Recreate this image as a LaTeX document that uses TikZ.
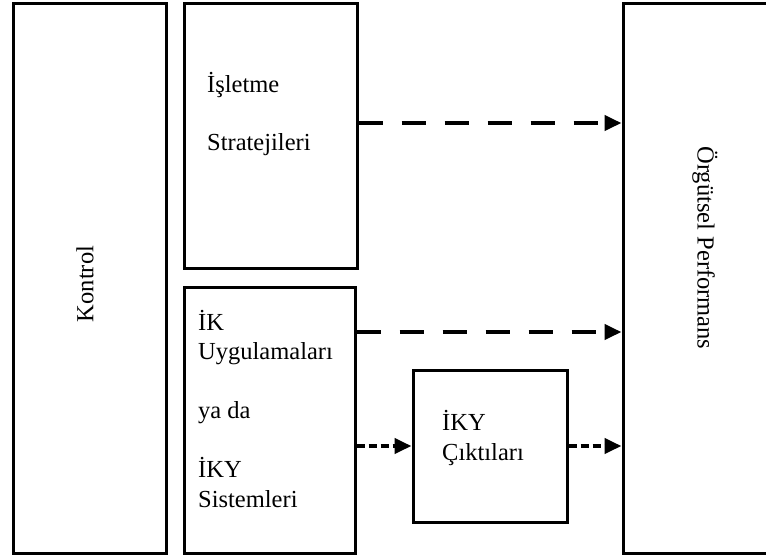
\documentclass[tikz,border=0pt]{standalone}
\usepackage{fontspec}
\setmainfont{Liberation Serif}
\usetikzlibrary{arrows.meta}
\begin{document}
\begin{tikzpicture}[x=1pt,y=-1pt,
  box/.style={draw,line width=3pt,rectangle,inner sep=0pt},
  lbl/.style={anchor=base west,inner sep=0pt,font=\fontsize{24.5}{29}\selectfont},
  vlbl/.style={inner sep=0pt,font=\fontsize{24.5}{29}\selectfont},
  dasharrow/.style={line width=4pt,dash pattern=on 24pt off 19pt,-{Triangle[length=17pt,width=15pt]}},
  dotarrow/.style={line width=4pt,dash pattern=on 8pt off 4pt,-{Triangle[length=17pt,width=15pt]}}]
\useasboundingbox (0,0) rectangle (766,558);
\clip (0,0) rectangle (766,558);
% boxes
\node[box,minimum width=153pt,minimum height=550pt] (kontrol) at (89.5,278) {};
\node[box,minimum width=173pt,minimum height=265pt] (strat) at (270.5,135.5) {};
\node[box,minimum width=171pt,minimum height=266pt] (ik) at (269.5,420) {};
\node[box,minimum width=154pt,minimum height=152pt] (cikti) at (490,446) {};
\node[box,minimum width=167pt,minimum height=550pt] (perf) at (706.5,278) {};
% labels
\node[vlbl,rotate=90] (tkontrol) at (85,284) {Kontrol};
\node[vlbl,rotate=-90] (tperf) at (705,248) {Örgütsel Performans};
\node[lbl] (t1) at (207,92) {İşletme};
\node[lbl] (t2) at (207,150) {Stratejileri};
\node[lbl] (t3) at (198,330) {İK};
\node[lbl] (t4) at (198,359) {Uygulamaları};
\node[lbl] (t5) at (198,418) {ya da};
\node[lbl] (t6) at (198,477) {İKY};
\node[lbl] (t7) at (198,507) {Sistemleri};
\node[lbl] (t8) at (442,430) {İKY};
\node[lbl] (t9) at (442,460) {Çıktıları};
% connectors
\draw[dasharrow] ([yshift=12.5pt]strat.east) -- ([yshift=12.5pt]strat.east -| perf.west);
\draw[dasharrow] ([yshift=88pt]ik.east) -- ([yshift=88pt]ik.east -| perf.west);
\draw[dotarrow] (ik.east |- cikti.west) -- (cikti.west);
\draw[dotarrow] (cikti.east) -- (cikti.east -| perf.west);
\end{tikzpicture}
\end{document}
